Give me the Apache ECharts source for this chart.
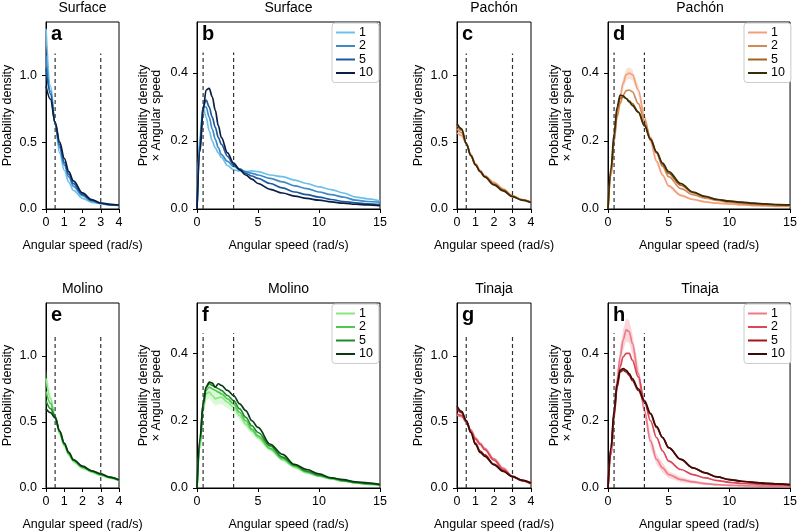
<!DOCTYPE html>
<html><head><meta charset="utf-8">
<script src="https://cdn.jsdelivr.net/npm/echarts@6/dist/echarts.min.js"></script>
<style>html,body{margin:0;padding:0;background:#fff}#c{width:800px;height:532px}</style>
</head><body><div id="c"></div>
<script>
// ---------- data ----------
const xsLeft = [0,0.25,0.5,0.75,1,1.25,1.5,2,2.5,3,3.5,4];
const xsRight = [0,0.25,0.5,0.75,1,1.25,1.5,1.75,2,2.5,3,3.5,4,4.5,5,6,7,8,9,10,11,12,13,14,15];
const seriesLabels = ['1','2','5','10'];
const titles = ['Surface','Surface','Pachón','Pachón','Molino','Molino','Tinaja','Tinaja'];
const letters = ['a','b','c','d','e','f','g','h'];

// Surface
const a1 = [1.35,0.92,0.63,0.42,0.29,0.20,0.14,0.08,0.05,0.04,0.03,0.025];
const a2 = [1.15,0.88,0.64,0.46,0.33,0.24,0.17,0.10,0.06,0.042,0.032,0.027];
const a5 = [1.05,0.86,0.64,0.48,0.35,0.26,0.19,0.11,0.065,0.043,0.033,0.028];
const a10 = [0.92,0.82,0.65,0.50,0.38,0.28,0.21,0.12,0.07,0.045,0.035,0.03];
const b1 = [0,0.22,0.30,0.27,0.23,0.20,0.18,0.165,0.152,0.128,0.115,0.112,0.11,0.112,0.11,0.10,0.095,0.085,0.075,0.065,0.057,0.047,0.035,0.03,0.024];
const b2 = [0,0.20,0.30,0.30,0.27,0.235,0.205,0.18,0.16,0.14,0.125,0.117,0.11,0.105,0.10,0.09,0.08,0.068,0.06,0.05,0.042,0.035,0.026,0.022,0.02];
const b5 = [0,0.19,0.30,0.32,0.30,0.27,0.24,0.21,0.19,0.155,0.13,0.117,0.105,0.097,0.09,0.075,0.062,0.05,0.042,0.035,0.028,0.022,0.018,0.015,0.013];
const b10 = [0,0.17,0.29,0.35,0.355,0.33,0.29,0.245,0.21,0.165,0.135,0.115,0.10,0.088,0.075,0.058,0.047,0.038,0.031,0.026,0.021,0.017,0.014,0.012,0.01];
// Pachón
const c1 = [0.57,0.55,0.49,0.41,0.34,0.29,0.25,0.20,0.15,0.10,0.07,0.05];
const c2 = [0.60,0.57,0.49,0.40,0.335,0.285,0.245,0.19,0.145,0.097,0.07,0.05];
const c5 = [0.63,0.59,0.49,0.40,0.33,0.28,0.24,0.185,0.14,0.095,0.068,0.05];
const c10 = [0.64,0.60,0.49,0.40,0.33,0.28,0.24,0.18,0.135,0.092,0.067,0.048];
const d1 = [0,0.10,0.20,0.28,0.33,0.37,0.395,0.40,0.395,0.35,0.27,0.20,0.14,0.10,0.068,0.04,0.028,0.021,0.017,0.015,0.012,0.01,0.009,0.008,0.008];
const d2 = [0,0.10,0.20,0.27,0.31,0.335,0.348,0.35,0.345,0.31,0.26,0.21,0.165,0.125,0.095,0.06,0.042,0.032,0.025,0.02,0.016,0.013,0.011,0.01,0.009];
const d5 = [0,0.11,0.21,0.29,0.325,0.33,0.325,0.318,0.31,0.285,0.25,0.205,0.165,0.13,0.105,0.07,0.048,0.036,0.028,0.023,0.019,0.016,0.014,0.012,0.011];
const d10 = [0,0.12,0.22,0.30,0.335,0.333,0.325,0.315,0.305,0.285,0.245,0.205,0.168,0.135,0.11,0.075,0.05,0.037,0.028,0.023,0.02,0.017,0.015,0.013,0.012];
// Molino
const e1 = [0.83,0.68,0.53,0.41,0.32,0.25,0.20,0.15,0.12,0.095,0.075,0.055];
const e2 = [0.73,0.64,0.54,0.42,0.33,0.26,0.21,0.16,0.125,0.10,0.08,0.06];
const e5 = [0.66,0.60,0.54,0.43,0.335,0.265,0.21,0.16,0.13,0.105,0.08,0.06];
const e10 = [0.60,0.57,0.53,0.43,0.34,0.27,0.215,0.165,0.13,0.107,0.082,0.06];
const f1 = [0,0.12,0.23,0.28,0.285,0.275,0.265,0.268,0.27,0.255,0.24,0.215,0.19,0.17,0.15,0.115,0.084,0.062,0.045,0.035,0.027,0.02,0.015,0.011,0.008];
const f2 = [0,0.13,0.24,0.29,0.30,0.295,0.29,0.285,0.28,0.265,0.25,0.225,0.20,0.175,0.155,0.118,0.088,0.065,0.048,0.036,0.028,0.021,0.016,0.012,0.009];
const f5 = [0,0.14,0.25,0.30,0.31,0.305,0.30,0.295,0.29,0.275,0.26,0.235,0.21,0.185,0.165,0.125,0.092,0.068,0.05,0.038,0.03,0.022,0.017,0.013,0.01];
const f10 = [0,0.15,0.25,0.30,0.315,0.312,0.30,0.31,0.305,0.29,0.275,0.25,0.23,0.20,0.18,0.13,0.10,0.07,0.055,0.042,0.03,0.025,0.018,0.015,0.01];
// Tinaja
const g1 = [0.55,0.54,0.50,0.44,0.38,0.34,0.30,0.22,0.15,0.09,0.055,0.03];
const g2 = [0.56,0.55,0.50,0.43,0.37,0.33,0.29,0.21,0.14,0.088,0.055,0.032];
const g5 = [0.60,0.57,0.51,0.42,0.34,0.28,0.25,0.18,0.13,0.086,0.058,0.036];
const g10 = [0.62,0.58,0.51,0.42,0.33,0.27,0.24,0.175,0.125,0.086,0.06,0.037];
const h1 = [0,0.10,0.22,0.32,0.39,0.44,0.47,0.465,0.43,0.34,0.23,0.14,0.085,0.06,0.04,0.025,0.018,0.013,0.01,0.008,0.007,0.006,0.005,0.005,0.004];
const h2 = [0,0.10,0.21,0.30,0.36,0.39,0.40,0.40,0.38,0.33,0.26,0.20,0.15,0.11,0.08,0.055,0.04,0.03,0.022,0.017,0.014,0.012,0.01,0.009,0.008];
const h5 = [0,0.12,0.22,0.30,0.345,0.35,0.345,0.335,0.32,0.29,0.255,0.22,0.18,0.15,0.12,0.085,0.06,0.045,0.033,0.025,0.02,0.017,0.014,0.012,0.01];
const h10 = [0,0.12,0.23,0.31,0.35,0.355,0.35,0.34,0.325,0.295,0.26,0.222,0.183,0.15,0.12,0.085,0.06,0.045,0.033,0.025,0.02,0.017,0.014,0.012,0.01];

// half-widths of the shaded uncertainty bands (light series "1")
const dBand1 = [0,0.005,0.01,0.012,0.015,0.016,0.017,0.017,0.016,0.013,0.01,0.008,0.008,0.006,0.005,0.004,0.003,0.002,0.002,0.002,0.002,0.002,0.002,0.002,0.002];
const hBand1 = [0,0.01,0.02,0.025,0.03,0.032,0.034,0.034,0.03,0.025,0.02,0.02,0.015,0.015,0.01,0.008,0.005,0.004,0.003,0.003,0.002,0.002,0.002,0.002,0.002];
const fBand1 = [0,0.01,0.015,0.02,0.02,0.02,0.02,0.02,0.02,0.018,0.015,0.012,0.01,0.01,0.008,0.006,0.005,0.004,0.003,0.003,0.002,0.002,0.002,0.002,0.002];
const eBand1 = [0.07,0.04,0.02,0.015,0.01,0.01,0.008,0.006,0.005,0.005,0.004,0.004];

const leftTicksY = [0,0.5,1.0];
const rightTicksY = [0,0.2,0.4];
const leftTicksX = [0,1,2,3,4];
const rightTicksX = [0,5,10,15];
const thresholds = [0.5,3];

const palettes = [
  ['#6ec0ea','#3f8ac6','#1c5aa0','#0a1e44'],
  ['#f2a07c','#d08c58','#a06420','#3a2a08'],
  ['#88e880','#50c850','#1e8c2a','#0a3a14'],
  ['#ee7a88','#d84858','#a01818','#3a0c08']
];
const panelData = [
  [a1,a2,a5,a10],[b1,b2,b5,b10],[c1,c2,c5,c10],[d1,d2,d5,d10],
  [e1,e2,e5,e10],[f1,f2,f5,f10],[g1,g2,g5,g10],[h1,h2,h5,h10]
];
const bands = {3:dBand1, 4:eBand1, 5:fBand1, 7:hBand1};

// ---------- layout ----------
const FONT = 'Liberation Sans, Arial, Helvetica, sans-serif';
const colLeft = [46,197,457,608];
const colWidth = [73,183,74,184];
const rowTop = [22,303];
const rowH = [187,188];

const grids=[], xAxes=[], yAxes=[], series=[], titleArr=[], legends=[], graphics=[];
for (let p=0;p<8;p++){
  const col=p%4, row=Math.floor(p/4);
  const isRight = col%2===1;
  const species = Math.floor(col/2) + row*2;
  const pal = palettes[species];
  grids.push({left:colLeft[col], top:rowTop[row], width:colWidth[col], height:rowH[row],
    show:true, borderColor:'#000', borderWidth:1, backgroundColor:'transparent', containLabel:false});
  xAxes.push({type:'value', gridIndex:p, min:0, max:isRight?15:4, interval:isRight?5:1,
    name:'Angular speed (rad/s)', nameLocation:'middle', nameGap:30,
    nameTextStyle:{fontFamily:FONT, fontSize:12.5, color:'#000'},
    axisLine:{show:true, onZero:false, lineStyle:{color:'#000', width:1}},
    axisTick:{show:true, length:4, lineStyle:{color:'#000'}, customValues:isRight?rightTicksX:leftTicksX},
    axisLabel:{fontFamily:FONT, fontSize:12.5, color:'#000', margin:7, customValues:isRight?rightTicksX:leftTicksX},
    splitLine:{show:false}});
  yAxes.push({type:'value', gridIndex:p, min:0, max:isRight?0.55:1.4,
    name:isRight?'Probability density\n× Angular speed':'Probability density',
    nameLocation:'middle', nameGap:isRight?34:32, nameRotate:90,
    nameTextStyle:{fontFamily:FONT, fontSize:12.5, color:'#000', lineHeight:13, align:'center'},
    axisLine:{show:true, lineStyle:{color:'#000', width:1}},
    axisTick:{show:true, length:4, lineStyle:{color:'#000'}, customValues:isRight?rightTicksY:leftTicksY},
    axisLabel:{fontFamily:FONT, fontSize:12.5, color:'#000', margin:9, customValues:isRight?rightTicksY:leftTicksY,
      formatter:v=>v.toFixed(1)},
    splitLine:{show:false}});
  titleArr.push({text:titles[p], left:colLeft[col]+colWidth[col]/2, top:rowTop[row]-21, textAlign:'center', padding:0,
    textStyle:{fontFamily:FONT, fontSize:14, fontWeight:'normal', color:'#000'}});
  graphics.push({type:'text', left:colLeft[col]+5, top:rowTop[row]+2,
    style:{text:letters[p], font:'bold 20px '+FONT, fill:'#000'}});
  const xs = isRight?xsRight:xsLeft;
  if (bands[p]){
    const hw = bands[p], base = panelData[p][0];
    const bandData = xs.map((x,i)=>[x, base[i]-hw[i], base[i]+hw[i]]);
    const col0 = pal[0];
    series.push({type:'custom', xAxisIndex:p, yAxisIndex:p, silent:true, z:1,
      data: bandData, encode:{x:0, y:[1,2]}, clip:true,
      renderItem:(params, api)=>{
        if (params.dataIndex!==0) return null;
        const up = bandData.map(d=>api.coord([d[0], d[2]]));
        const lo = bandData.map(d=>api.coord([d[0], d[1]])).reverse();
        return {type:'polygon', shape:{points:up.concat(lo)},
          style:{fill:col0, opacity:0.3, stroke:'none'}};
      }});
  }
  const names=[];
  for (let k=0;k<4;k++){
    const nm = letters[p]+'|'+seriesLabels[k];
    names.push(nm);
    series.push({type:'line', name:nm, xAxisIndex:p, yAxisIndex:p,
      data: xs.map((x,i)=>[x, panelData[p][k][i]]),
      smooth:0.35, smoothMonotone:'x', showSymbol:false, symbol:'none',
      lineStyle:{color:pal[k], width:1.7}, itemStyle:{color:pal[k]}, z:3+k, silent:true});
  }
  const top = isRight?0.46:1.165;
  thresholds.forEach(t=>{
    series.push({type:'line', xAxisIndex:p, yAxisIndex:p, data:[[t,0],[t,top]],
      showSymbol:false, symbol:'none', silent:true, z:10,
      lineStyle:{color:'#333', width:1.2, type:[4,3]}});
  });
  if (isRight){
    legends.push({data:names, orient:'vertical', left:colLeft[col]+colWidth[col]-48, top:rowTop[row]+1,
      icon:'rect', itemWidth:19, itemHeight:2, itemGap:0.5,
      padding:[3,6,3,4], borderColor:'#ccc', borderWidth:1, borderRadius:3, backgroundColor:'#fff',
      formatter:n=>n.split('|')[1], selectedMode:false,
      textStyle:{fontFamily:FONT, fontSize:12.5, color:'#000', lineHeight:13, padding:[0,0,0,-1]}});
  }
}

const chart = echarts.init(document.getElementById('c'), null, {renderer:'canvas'});
chart.setOption({
  animation:false, backgroundColor:'#fff',
  title:titleArr, grid:grids, xAxis:xAxes, yAxis:yAxes, series:series, legend:legends, graphic:graphics
});
</script></body></html>
